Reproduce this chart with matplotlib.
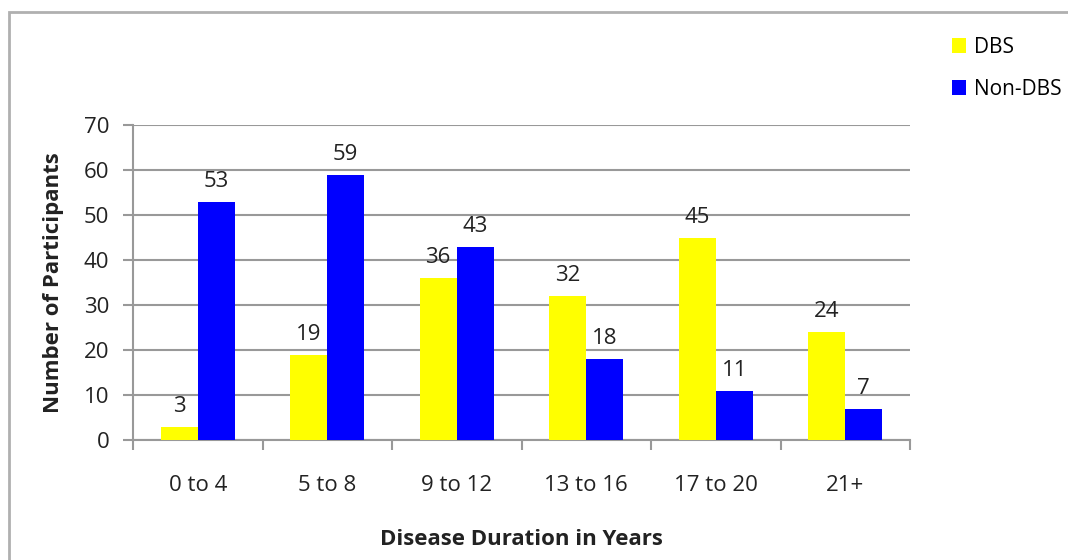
import matplotlib.pyplot as plt
import numpy as np
from matplotlib.patches import Rectangle

# Data
categories = ["0 to 4", "5 to 8", "9 to 12", "13 to 16", "17 to 20", "21+"]
dbs = [3, 19, 36, 32, 45, 24]
non_dbs = [53, 59, 43, 18, 11, 7]

plt.rcParams['font.family'] = ['Open Sans', 'DejaVu Sans']
fs = 16

fig = plt.figure(figsize=(10.68, 5.6), dpi=100)
ax = fig.add_axes([133 / 1068, 1 - 440 / 560, (910 - 133) / 1068, (440 - 125) / 560])

# outer frame
fig.patches.append(Rectangle((9 / 1068, -0.1), 1.2, 1 - 12 / 560 + 0.1,
                             transform=fig.transFigure, fill=False,
                             edgecolor='#b0b0b0', linewidth=2))

x = np.arange(len(categories))
w = 0.286
b1 = ax.bar(x - w / 2, dbs, w, color='#ffff00', label='DBS', zorder=3)
b2 = ax.bar(x + w / 2, non_dbs, w, color='#0000ff', label='Non-DBS', zorder=3)

for bars in (b1, b2):
    for r in bars:
        ax.annotate(str(int(r.get_height())), (r.get_x() + r.get_width() / 2, r.get_height()),
                    xytext=(0, 7), textcoords='offset points', ha='center', va='bottom',
                    fontsize=fs, color='#222222')

ax.set_xlim(-0.5, 5.5)
ax.set_ylim(0, 70)
ax.set_yticks(range(0, 71, 10))
ax.yaxis.grid(True, color='#999999', linewidth=1.5, zorder=0)
ax.set_axisbelow(True)

ax.set_xticks(x)
ax.set_xticklabels(categories)
ax.set_xticks(np.arange(-0.5, 6, 1), minor=True)
ax.tick_params(axis='x', which='major', length=0, pad=25, labelsize=fs, colors='#222222')
ax.tick_params(axis='x', which='minor', length=7, width=1.5, color='#999999', direction='out')
ax.tick_params(axis='y', length=7, width=1.5, color='#999999', pad=10, labelsize=fs, labelcolor='#222222')

for s in ['top', 'right']:
    ax.spines[s].set_visible(False)
for s in ['left', 'bottom']:
    ax.spines[s].set_color('#999999')
    ax.spines[s].set_linewidth(1.5)

ax.set_ylabel("Number of Participants", fontsize=fs, fontweight='bold', labelpad=14, color='#222222')
ax.set_xlabel("Disease Duration in Years", fontsize=fs, fontweight='bold', labelpad=24, color='#222222')

fig.legend(handles=[b1, b2], loc='upper left', bbox_to_anchor=(933 / 1068, 1 - 18 / 560),
           frameon=False, fontsize=fs - 1, handlelength=0.7, handleheight=0.7,
           labelspacing=1.0, handletextpad=0.35)

fig.savefig("out.png", dpi=100)
